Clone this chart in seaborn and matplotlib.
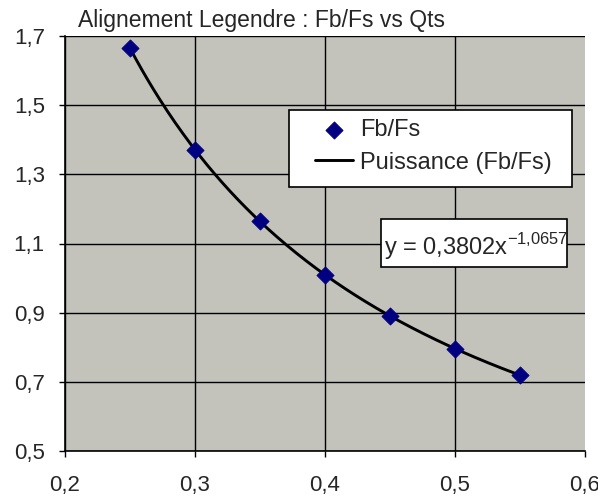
import numpy as np
import pandas as pd
import matplotlib
matplotlib.use('Agg')
import matplotlib.pyplot as plt
import matplotlib.patches as mpatches
import seaborn as sns

# data
qts = [0.25, 0.30, 0.35, 0.40, 0.45, 0.50, 0.55]
fb_fs = [1.665, 1.37, 1.165, 1.01, 0.89, 0.795, 0.72]
x_ticks = [0.2, 0.3, 0.4, 0.5, 0.6]
y_ticks = [0.5, 0.7, 0.9, 1.1, 1.3, 1.5, 1.7]
equation = "y = 0,3802x$^{\\mathregular{-1{,}0657}}$"

df = pd.DataFrame({'Qts': qts, 'Fb/Fs': fb_fs})

# power trend line fitted on the points (like Excel's "Puissance")
b, log_a = np.polyfit(np.log(df['Qts']), np.log(df['Fb/Fs']), 1)
xs = np.linspace(min(qts), max(qts), 200)
trend = pd.DataFrame({'Qts': xs, 'fit': np.exp(log_a) * xs ** b})

sns.set_style('white')
plt.rcParams['font.family'] = ['Liberation Sans', 'DejaVu Sans']
plt.rcParams['mathtext.fontset'] = 'custom'
plt.rcParams['mathtext.rm'] = 'Liberation Sans'

W, H = 598, 499
fig = plt.figure(figsize=(W / 100, H / 100), dpi=100)
ax = fig.add_axes([65 / W, (H - 451) / H, 520 / W, 415 / H])
ax.set_facecolor('#c3c3bb')


def px(x, y):
    # pixel position (from top-left) -> axes fraction
    return (x - 65) / 520, (451 - y) / 415


sns.lineplot(data=trend, x='Qts', y='fit', ax=ax, color='black', linewidth=2.1,
             label='Puissance (Fb/Fs)', zorder=3)
sns.scatterplot(data=df, x='Qts', y='Fb/Fs', ax=ax, marker='D', s=75, color='#000080',
                edgecolor='#000080', label='Fb/Fs', zorder=4)

ax.set_xlim(0.2, 0.6)
ax.set_ylim(0.5, 1.7)
ax.set_xticks(x_ticks)
ax.set_yticks(y_ticks)
ax.set_xticklabels([f'{v:.1f}'.replace('.', ',') for v in x_ticks], fontsize=16)
ax.set_yticklabels([f'{v:.1f}'.replace('.', ',') for v in y_ticks], fontsize=16)
ax.set_xlabel('')
ax.set_ylabel('')
ax.grid(True, color='black', linewidth=1)
ax.xaxis.get_gridlines()[-1].set_visible(False)
ax.set_axisbelow(True)
ax.tick_params(axis='both', direction='out', length=4.5, width=1, color='black',
               left=True, bottom=True)
ax.tick_params(axis='x', pad=13)
ax.tick_params(axis='y', pad=10)
for side in ['top', 'right']:
    ax.spines[side].set_visible(False)
for side in ['left', 'bottom']:
    ax.spines[side].set_color('black')
    ax.spines[side].set_linewidth(1.2)

# legend box drawn as a plain rectangle, entries placed inside it
x0, y1 = px(289, 187)
x1, y0 = px(572, 110)
ax.add_patch(mpatches.Rectangle((x0, y1), x1 - x0, y0 - y1, transform=ax.transAxes,
                                facecolor='white', edgecolor='black', linewidth=1.2,
                                zorder=5))
handles, labels = ax.get_legend_handles_labels()
order = [labels.index('Fb/Fs'), labels.index('Puissance (Fb/Fs)')]
leg = ax.legend([handles[i] for i in order], [labels[i] for i in order],
                loc='upper left', bbox_to_anchor=px(315, 119), fontsize=17,
                frameon=False, handlelength=1.6, handletextpad=0.3,
                labelspacing=0.45, borderpad=0, borderaxespad=0)
leg.set_zorder(6)

# equation box
ex0, ey1 = px(381, 267)
ex1, ey0 = px(567, 219)
ax.add_patch(mpatches.Rectangle((ex0, ey1), ex1 - ex0, ey0 - ey1, transform=ax.transAxes,
                                facecolor='white', edgecolor='black', linewidth=1.2,
                                zorder=5))
ax.text(*px(384, 255), equation, transform=ax.transAxes, ha='left', va='baseline',
        fontsize=17, zorder=6)

fig.text(261 / W, 1 - 20 / H, 'Alignement Legendre : Fb/Fs vs Qts',
         ha='center', va='center', fontsize=16.5)

fig.savefig('out.png', dpi=100)
